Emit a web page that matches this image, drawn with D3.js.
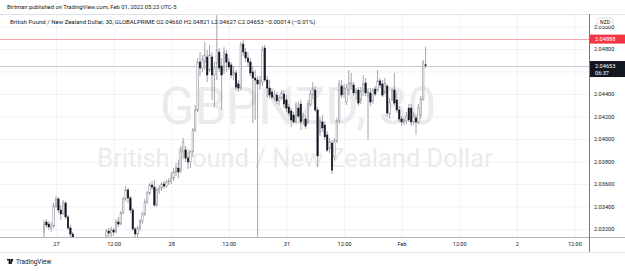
<!DOCTYPE html>
<html>
<head>
<meta charset="utf-8">
<script src="https://cdn.jsdelivr.net/npm/d3@7/dist/d3.min.js"></script>
<style>
body { margin: 0; background: #fff; }
svg { display: block; font-family: Roboto, "Liberation Sans", sans-serif; }
</style>
</head>
<body>
<div id="chart"></div>
<script>
// 30 minute bars, index 0 = Jan 27 00:00 (UTC-5), weekend skipped
var bars  = [-5,-4,-3,-2,-1,0,1,2,3,4,5,6,7,
  21,22,23,24,25,26,27,28,29,30,31,32,33,34,35,36,37,38,39,40,41,42,43,44,45,46,47,48,49,50,
  51,52,53,54,55,56,57,58,59,60,61,62,63,64,65,66,67,68,69,70,71,72,73,74,75,76,77,78,79,80,
  81,82,83,84,85,86,87,88,89,90,91,92,93,94,95,96,97,98,99,100,101,102,103,104,105,106,107,108,109,110,
  111,112,113,114,115,116,117,118,119,120,121,122,123,124,125,126,127,128,129,130,131,132,133,134,135,136,137,138,139,140,
  141,142,143,144,145,146,147,148,149,150,151,152,153,154];
var open  = [2.03173,2.03262,2.03244,2.03209,2.03227,2.03404,2.03467,2.03369,2.03342,2.03431,2.03307,2.03209,2.03156,
  2.03138,2.03182,2.03164,2.03191,2.03173,2.03262,2.03244,2.03342,2.03467,2.03547,2.03476,2.03369,2.03200,2.03156,2.03209,2.03271,2.03333,2.03440,2.03520,2.03591,2.03573,2.03413,2.03547,2.03564,2.03600,2.03582,2.03618,2.03627,2.03653,2.03707,
  2.03742,2.03724,2.03885,2.03902,2.03831,2.03796,2.03885,2.04080,2.04258,2.04684,2.04631,2.04684,2.04729,2.04613,2.04729,2.04569,2.04676,2.04773,2.04649,2.04613,2.04756,2.04684,2.04658,2.04569,2.04587,2.04489,2.04462,2.04844,2.04773,2.04720,
  2.04684,2.04596,2.04542,2.04524,2.04489,2.04507,2.04809,2.04524,2.04453,2.04418,2.04373,2.04391,2.04338,2.04364,2.04400,2.04347,2.04284,2.04249,2.04213,2.04151,2.04275,2.04311,2.04169,2.04178,2.04151,2.04311,2.04391,2.04435,2.04258,2.04062,
  2.04151,2.04124,2.04036,2.03920,2.03964,2.03840,2.03982,2.04160,2.04471,2.04400,2.04329,2.04435,2.04480,2.04480,2.04409,2.04435,2.04347,2.04435,2.04498,2.04382,2.04409,2.04338,2.04444,2.04435,2.04516,2.04489,2.04418,2.04471,2.04222,2.04347,
  2.04435,2.04347,2.04258,2.04178,2.04151,2.04160,2.04275,2.04275,2.04151,2.04187,2.04151,2.04213,2.04355,2.04660];
var high  = [2.03280,2.03289,2.03271,2.03262,2.03431,2.03493,2.03484,2.03413,2.03458,2.03449,2.03324,2.03236,2.03173,
  2.03200,2.03209,2.03218,2.03209,2.03289,2.03307,2.03360,2.03484,2.03582,2.03564,2.03493,2.03387,2.03218,2.03227,2.03289,2.03351,2.03467,2.03538,2.03609,2.03627,2.03636,2.03564,2.03591,2.03618,2.03627,2.03636,2.03653,2.03707,2.03742,2.03787,
  2.03813,2.03938,2.04009,2.03938,2.03885,2.03902,2.04098,2.04302,2.04720,2.04773,2.04747,2.04862,2.04791,2.04836,2.04773,2.04684,2.05102,2.04809,2.04720,2.04818,2.04791,2.04720,2.04684,2.04649,2.04613,2.04524,2.04862,2.04880,2.04809,2.04773,
  2.04720,2.04649,2.04613,2.04560,2.04560,2.04827,2.04836,2.04560,2.04524,2.04453,2.04435,2.04418,2.04391,2.04435,2.04435,2.04391,2.04311,2.04275,2.04240,2.04329,2.04329,2.04347,2.04231,2.04213,2.04347,2.04435,2.04507,2.04471,2.04284,2.04196,
  2.04213,2.04160,2.04071,2.04009,2.03991,2.04009,2.04187,2.04524,2.04524,2.04489,2.04489,2.04613,2.04587,2.04507,2.04453,2.04462,2.04462,2.04569,2.04542,2.04453,2.04453,2.04453,2.04471,2.04613,2.04542,2.04524,2.04542,2.04489,2.04364,2.04453,
  2.04587,2.04418,2.04293,2.04204,2.04196,2.04240,2.04311,2.04311,2.04240,2.04222,2.04311,2.04382,2.04702,2.04821];
var low   = [2.03111,2.03209,2.03191,2.03173,2.03209,2.03387,2.03342,2.03280,2.03324,2.03289,2.03191,2.03102,2.03031,
  2.03102,2.03120,2.03129,2.03138,2.03164,2.03218,2.03236,2.03333,2.03449,2.03431,2.03342,2.03182,2.03120,2.03129,2.03182,2.03244,2.03316,2.03422,2.03502,2.03547,2.03396,2.03396,2.03511,2.03538,2.03556,2.03564,2.03591,2.03600,2.03627,2.03671,
  2.03653,2.03698,2.03831,2.03796,2.03733,2.03742,2.03840,2.04062,2.04240,2.04560,2.04596,2.04613,2.04507,2.04596,2.04347,2.04284,2.04524,2.04596,2.04258,2.04578,2.04596,2.04613,2.04542,2.04524,2.04435,2.04418,2.04435,2.04738,2.04684,2.04649,
  2.04560,2.04142,2.04169,2.02924,2.04435,2.04471,2.04507,2.04373,2.04364,2.04355,2.04338,2.04311,2.04302,2.04347,2.04275,2.04240,2.04204,2.04107,2.04133,2.04133,2.04187,2.04080,2.04124,2.04089,2.04133,2.04293,2.04355,2.04240,2.03751,2.04027,
  2.04062,2.03991,2.03885,2.03876,2.03689,2.03813,2.03964,2.04142,2.04364,2.04364,2.04302,2.04391,2.04435,2.04382,2.04347,2.04293,2.04311,2.04382,2.04382,2.03991,2.04293,2.04311,2.04382,2.04418,2.04453,2.04373,2.04400,2.04196,2.04178,2.04338,
  2.04302,2.04231,2.04151,2.04115,2.04124,2.04133,2.04151,2.04115,2.04124,2.04036,2.04133,2.04178,2.04338,2.04627];
var close = [2.03244,2.03236,2.03218,2.03227,2.03404,2.03467,2.03369,2.03333,2.03431,2.03307,2.03209,2.03156,2.03084,
  2.03182,2.03164,2.03191,2.03173,2.03262,2.03244,2.03342,2.03467,2.03547,2.03476,2.03369,2.03200,2.03156,2.03209,2.03271,2.03333,2.03440,2.03520,2.03591,2.03573,2.03413,2.03547,2.03564,2.03600,2.03582,2.03618,2.03627,2.03653,2.03707,2.03742,
  2.03707,2.03902,2.03973,2.03831,2.03796,2.03885,2.04080,2.04258,2.04684,2.04631,2.04702,2.04747,2.04569,2.04747,2.04569,2.04631,2.04791,2.04631,2.04569,2.04773,2.04684,2.04640,2.04569,2.04596,2.04462,2.04453,2.04836,2.04773,2.04720,2.04684,
  2.04587,2.04542,2.04524,2.04489,2.04524,2.04791,2.04524,2.04453,2.04391,2.04373,2.04391,2.04338,2.04364,2.04409,2.04311,2.04275,2.04231,2.04169,2.04151,2.04302,2.04204,2.04151,2.04196,2.04115,2.04311,2.04400,2.04444,2.04258,2.03849,2.04160,
  2.04098,2.04018,2.03902,2.03973,2.03724,2.03982,2.04160,2.04489,2.04391,2.04453,2.04453,2.04498,2.04498,2.04409,2.04427,2.04320,2.04427,2.04489,2.04409,2.04418,2.04329,2.04435,2.04400,2.04516,2.04480,2.04391,2.04498,2.04231,2.04329,2.04427,
  2.04320,2.04258,2.04178,2.04151,2.04169,2.04204,2.04169,2.04151,2.04204,2.04151,2.04275,2.04355,2.04676,2.04653];

var priceTicks = [2.032,2.034,2.036,2.038,2.040,2.042,2.044,2.046,2.048,2.050];
var timeTicks  = [0,24,48,72,96,120,144,168,192,216];
var timeLabels = ["27","12:00","28","12:00","31","12:00","Feb","12:00","2","12:00"];
var alertPrice = 2.04888;
var lastPrice = 2.04653, countdown = "06:37";
var legendName = "British Pound / New Zealand Dollar, 30, GLOBALPRIME";
var legendOHLC = [["O","2.04660"],["H","2.04821"],["L","2.04627"],["C","2.04653"]];
var legendChange = "\u22120.00014 (\u22120.01%)";

var W = 625, H = 271;
var pane = {left: 0, right: 589, top: 14, bottom: 237};

var svg = d3.select("#chart").append("svg")
  .attr("width", W).attr("height", H);

var x = d3.scaleLinear().domain([0, 192]).range([56, 516.8]);
var y = d3.scaleLinear().domain([2.032, 2.048]).range([229, 49]);

var data = bars.map(function(b, i){
  return {i: b, o: open[i], h: high[i], l: low[i], c: close[i]};
});

svg.append("defs").append("clipPath").attr("id", "pc")
  .append("rect").attr("x", pane.left).attr("y", pane.top)
  .attr("width", pane.right - pane.left).attr("height", pane.bottom - pane.top);

// grid
var grid = svg.append("g").attr("clip-path", "url(#pc)");
grid.append("g")
  .attr("transform", "translate(0," + pane.bottom + ")")
  .call(d3.axisBottom(x).tickValues(timeTicks).tickSize(-(pane.bottom - pane.top)).tickFormat(""))
  .call(function(g){ g.select(".domain").remove(); g.selectAll("line").attr("stroke", "#f0f3fa"); });
grid.append("g")
  .attr("transform", "translate(" + pane.right + ",0)")
  .call(d3.axisLeft(y).tickValues(priceTicks).tickSize(pane.right - pane.left).tickFormat(""))
  .call(function(g){ g.select(".domain").remove(); g.selectAll("line").attr("stroke", "#f0f3fa"); });

// watermark
var wm = svg.append("g").attr("fill", "#ebebeb").attr("text-anchor", "middle");
wm.append("text").attr("x", 298).attr("y", 124).attr("font-size", 51).text("GBPNZD, 30");
wm.append("text").attr("x", 295).attr("y", 167).attr("font-size", 25.5).text("British Pound / New Zealand Dollar");

// alert line and last price line
svg.append("line").attr("x1", pane.left).attr("x2", pane.right)
  .attr("y1", Math.round(y(alertPrice)) + 0.5).attr("y2", Math.round(y(alertPrice)) + 0.5)
  .attr("stroke", "#f7a6ad").attr("stroke-width", 1);
svg.append("line").attr("x1", pane.left).attr("x2", pane.right)
  .attr("y1", Math.round(y(lastPrice)) + 0.5).attr("y2", Math.round(y(lastPrice)) + 0.5)
  .attr("stroke", "#c6c8cd").attr("stroke-width", 1);

// candles
var cg = svg.append("g").attr("clip-path", "url(#pc)");
var bw = 1.5;
cg.selectAll("line.wick").data(data).enter().append("line")
  .attr("x1", function(d){ return x(d.i); }).attr("x2", function(d){ return x(d.i); })
  .attr("y1", function(d){ return y(d.h); }).attr("y2", function(d){ return y(d.l); })
  .attr("stroke", "#7d808a").attr("stroke-width", 0.7);
cg.selectAll("rect.body").data(data).enter().append("rect")
  .attr("x", function(d){ return x(d.i) - bw / 2; })
  .attr("width", bw)
  .attr("y", function(d){ return y(Math.max(d.o, d.c)); })
  .attr("height", function(d){ return Math.max(0.8, Math.abs(y(d.o) - y(d.c))); })
  .attr("fill", function(d){ return d.c >= d.o ? "#ffffff" : "#131722"; })
  .attr("stroke", function(d){ return d.c >= d.o ? "#80838d" : "#131722"; })
  .attr("stroke-width", 0.5);

// pane borders
svg.append("line").attr("x1", 0).attr("x2", W).attr("y1", pane.top + 0.5).attr("y2", pane.top + 0.5).attr("stroke", "#e0e3eb");
svg.append("line").attr("x1", 0).attr("x2", W).attr("y1", pane.bottom + 0.5).attr("y2", pane.bottom + 0.5).attr("stroke", "#b2b5be");
svg.append("line").attr("x1", 0).attr("x2", W).attr("y1", 252.5).attr("y2", 252.5).attr("stroke", "#e0e3eb");
svg.append("line").attr("x1", pane.right + 0.5).attr("x2", pane.right + 0.5).attr("y1", pane.top).attr("y2", 252).attr("stroke", "#787b86");

// price axis (label under the last price tag is hidden, as on the reference)
var ya = svg.append("g").attr("transform", "translate(" + pane.right + ",0)")
  .call(d3.axisRight(y).tickValues(priceTicks).tickSize(0).tickPadding(5).tickFormat(d3.format(".5f")));
ya.select(".domain").remove();
ya.selectAll("text").attr("font-size", 5.6).attr("fill", "#131722").attr("font-family", "Roboto");
ya.selectAll(".tick").filter(function(d){ return Math.abs(y(d) - y(lastPrice)) < 12; }).remove();

// time axis
var xa = svg.append("g").attr("transform", "translate(0," + pane.bottom + ")")
  .call(d3.axisBottom(x).tickValues(timeTicks).tickSize(0).tickPadding(5)
    .tickFormat(function(d, i){ return timeLabels[i]; }));
xa.select(".domain").remove();
xa.selectAll("text").attr("font-size", 5.6).attr("fill", "#131722").attr("font-family", "Roboto");

// currency tag
var tag = svg.append("g").attr("transform", "translate(597,18)");
tag.append("rect").attr("width", 16).attr("height", 8).attr("rx", 2)
  .attr("fill", "#fff").attr("stroke", "#c9cbd1").attr("stroke-width", 0.6);
tag.append("text").attr("x", 8).attr("y", 6).attr("text-anchor", "middle")
  .attr("font-size", 5).attr("fill", "#131722").text("NZD");

// alert label
var ay = y(alertPrice);
svg.append("rect").attr("x", pane.right + 1).attr("y", ay - 4.5).attr("width", W - pane.right - 1).attr("height", 9)
  .attr("fill", "#f23645");
svg.append("text").attr("x", 595).attr("y", ay + 2).attr("font-size", 5.6).attr("fill", "#fff").text(alertPrice.toFixed(5));

// last price label
var ly = y(lastPrice);
svg.append("rect").attr("x", pane.right + 1).attr("y", ly - 4.5).attr("width", W - pane.right - 1).attr("height", 16)
  .attr("fill", "#131722");
svg.append("text").attr("x", 595).attr("y", ly + 2).attr("font-size", 5.6).attr("fill", "#fff").text(lastPrice.toFixed(5));
svg.append("text").attr("x", 595).attr("y", ly + 9).attr("font-size", 5.6).attr("fill", "#fff").text(countdown);

// legend
var lg = svg.append("text").attr("x", 10).attr("y", 24).attr("font-size", 6).attr("fill", "#131722");
lg.append("tspan").text(legendName + "  ");
legendOHLC.forEach(function(p){
  lg.append("tspan").text(p[0]);
  lg.append("tspan").text(p[1] + "  ");
});
lg.append("tspan").text(legendChange);

// header and footer
svg.append("text").attr("x", 7).attr("y", 9).attr("font-size", 5.8).attr("fill", "#131722")
  .text("Birtman published on TradingView.com, Feb 01, 2022 05:23 UTC-5");
var ft = svg.append("g").attr("transform", "translate(7,259)");
ft.append("path").attr("d", "M0,0H3.2V5H1.6V1.4H0Z M3.6,0H6.4L4.6,5H3.2Z").attr("fill", "#131722");
ft.append("text").attr("x", 9).attr("y", 5).attr("font-size", 6.4).attr("fill", "#131722").text("TradingView");
</script>
</body>
</html>
